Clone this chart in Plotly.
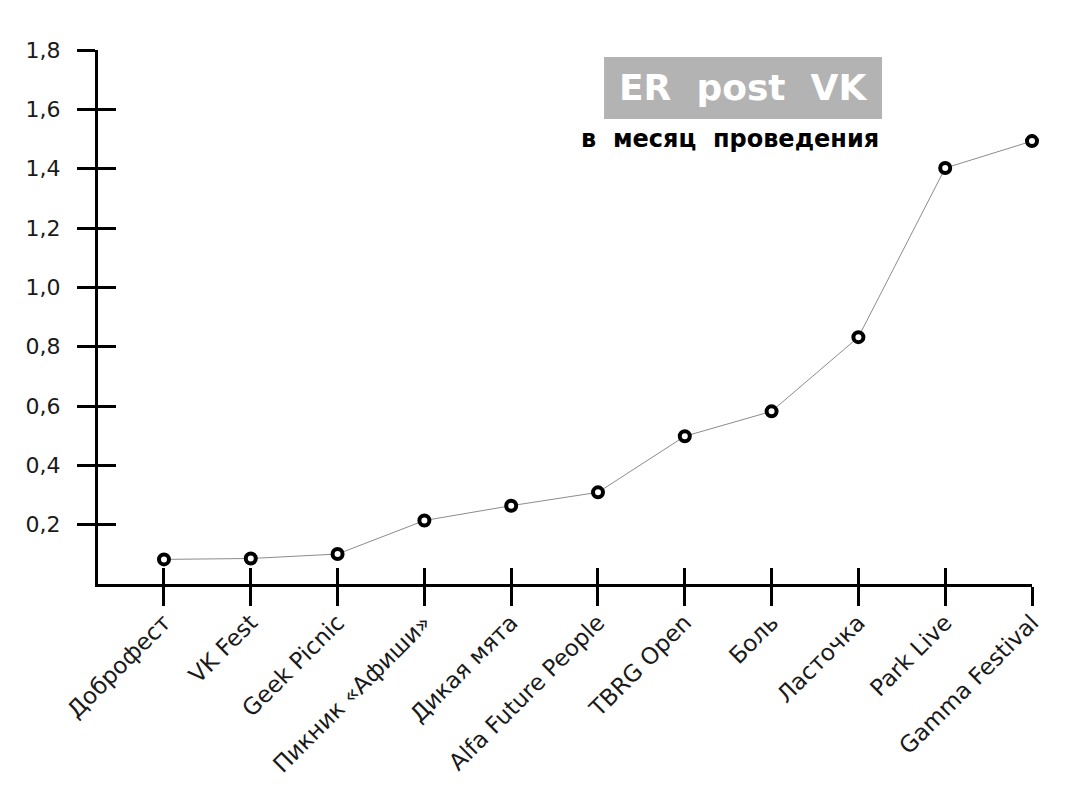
import plotly.graph_objects as go

categories = ["Доброфест", "VK Fest", "Geek Picnic", "Пикник «Афиши»", "Дикая мята",
              "Alfa Future People", "TBRG Open", "Боль", "Ласточка", "Park Live", "Gamma Festival"]
er_values = [0.083, 0.086, 0.101, 0.214, 0.264, 0.309, 0.498, 0.582, 0.832, 1.402, 1.493]
y_ticks = [0.2, 0.4, 0.6, 0.8, 1.0, 1.2, 1.4, 1.6, 1.8]
title_text = "ER post VK"
subtitle_text = "в месяц проведения"

FONT = "DejaVu Sans"

fig = go.Figure()
fig.add_trace(go.Scatter(
    x=categories, y=er_values, mode="lines+markers",
    line=dict(color="#8c8c8c", width=1),
    marker=dict(size=10, color="white", line=dict(color="black", width=4)),
    hoverinfo="x+y", showlegend=False, cliponaxis=False,
))
# invisible trace to drive overlay axes (inside tick halves)
fig.add_trace(go.Scatter(
    x=categories, y=er_values, xaxis="x2", yaxis="y2", mode="markers",
    marker=dict(opacity=0), hoverinfo="skip", showlegend=False,
))

xr = [-0.76, len(categories) - 1]
yr = [0, 1.8]

fig.update_layout(
    width=1080, height=785,
    margin=dict(l=98, r=48, t=50, b=201, autoexpand=False),
    paper_bgcolor="white", plot_bgcolor="white",
    separators=", ",
    font=dict(family=FONT, size=22, color="#1a1a1a"),
    xaxis=dict(
        type="category", range=xr, showgrid=False, zeroline=False,
        showline=True, linecolor="black", linewidth=3, automargin=False,
        ticks="outside", ticklen=19, tickwidth=2.5, tickcolor="black",
        tickangle=-45, tickfont=dict(family=FONT, size=23, color="#1a1a1a"),
        ticklabelstandoff=-6,
    ),
    yaxis=dict(
        range=yr, showgrid=False, zeroline=False, automargin=False,
        showline=True, linecolor="black", linewidth=3,
        ticks="outside", ticklen=18, tickwidth=2.5, tickcolor="black",
        tickvals=y_ticks, tickformat=".1f",
        tickfont=dict(family=FONT, size=22, color="#1a1a1a"),
        ticklabelstandoff=12,
    ),
    xaxis2=dict(
        type="category", range=xr, overlaying="x", anchor="y2", side="bottom",
        showgrid=False, zeroline=False, showline=False, showticklabels=False,
        ticks="inside", ticklen=16, tickwidth=2.5, tickcolor="black", automargin=False,
    ),
    yaxis2=dict(
        range=yr, overlaying="y", anchor="x2", side="left",
        showgrid=False, zeroline=False, showline=False, showticklabels=False,
        ticks="inside", ticklen=18, tickwidth=2.5, tickcolor="black",
        tickvals=y_ticks, automargin=False,
    ),
)

fig.add_shape(type="rect", xref="paper", yref="paper",
              x0=0.5418, x1=0.8394, y0=0.8708, y1=0.987,
              fillcolor="#b3b3b3", line=dict(width=0), layer="below")
fig.add_annotation(xref="paper", yref="paper", x=0.6905, y=0.929,
                   text=title_text.replace(" ", "\u00a0\u00a0"), showarrow=False,
                   font=dict(family=FONT, size=36, color="white", weight="bold"),
                   xanchor="center", yanchor="middle")
fig.add_annotation(xref="paper", yref="paper", x=0.838, y=0.833,
                   text=subtitle_text.replace(" ", "\u00a0\u00a0"), showarrow=False,
                   font=dict(family=FONT, size=24, color="black", weight="bold"),
                   xanchor="right", yanchor="middle")

fig.write_html("out.html")
